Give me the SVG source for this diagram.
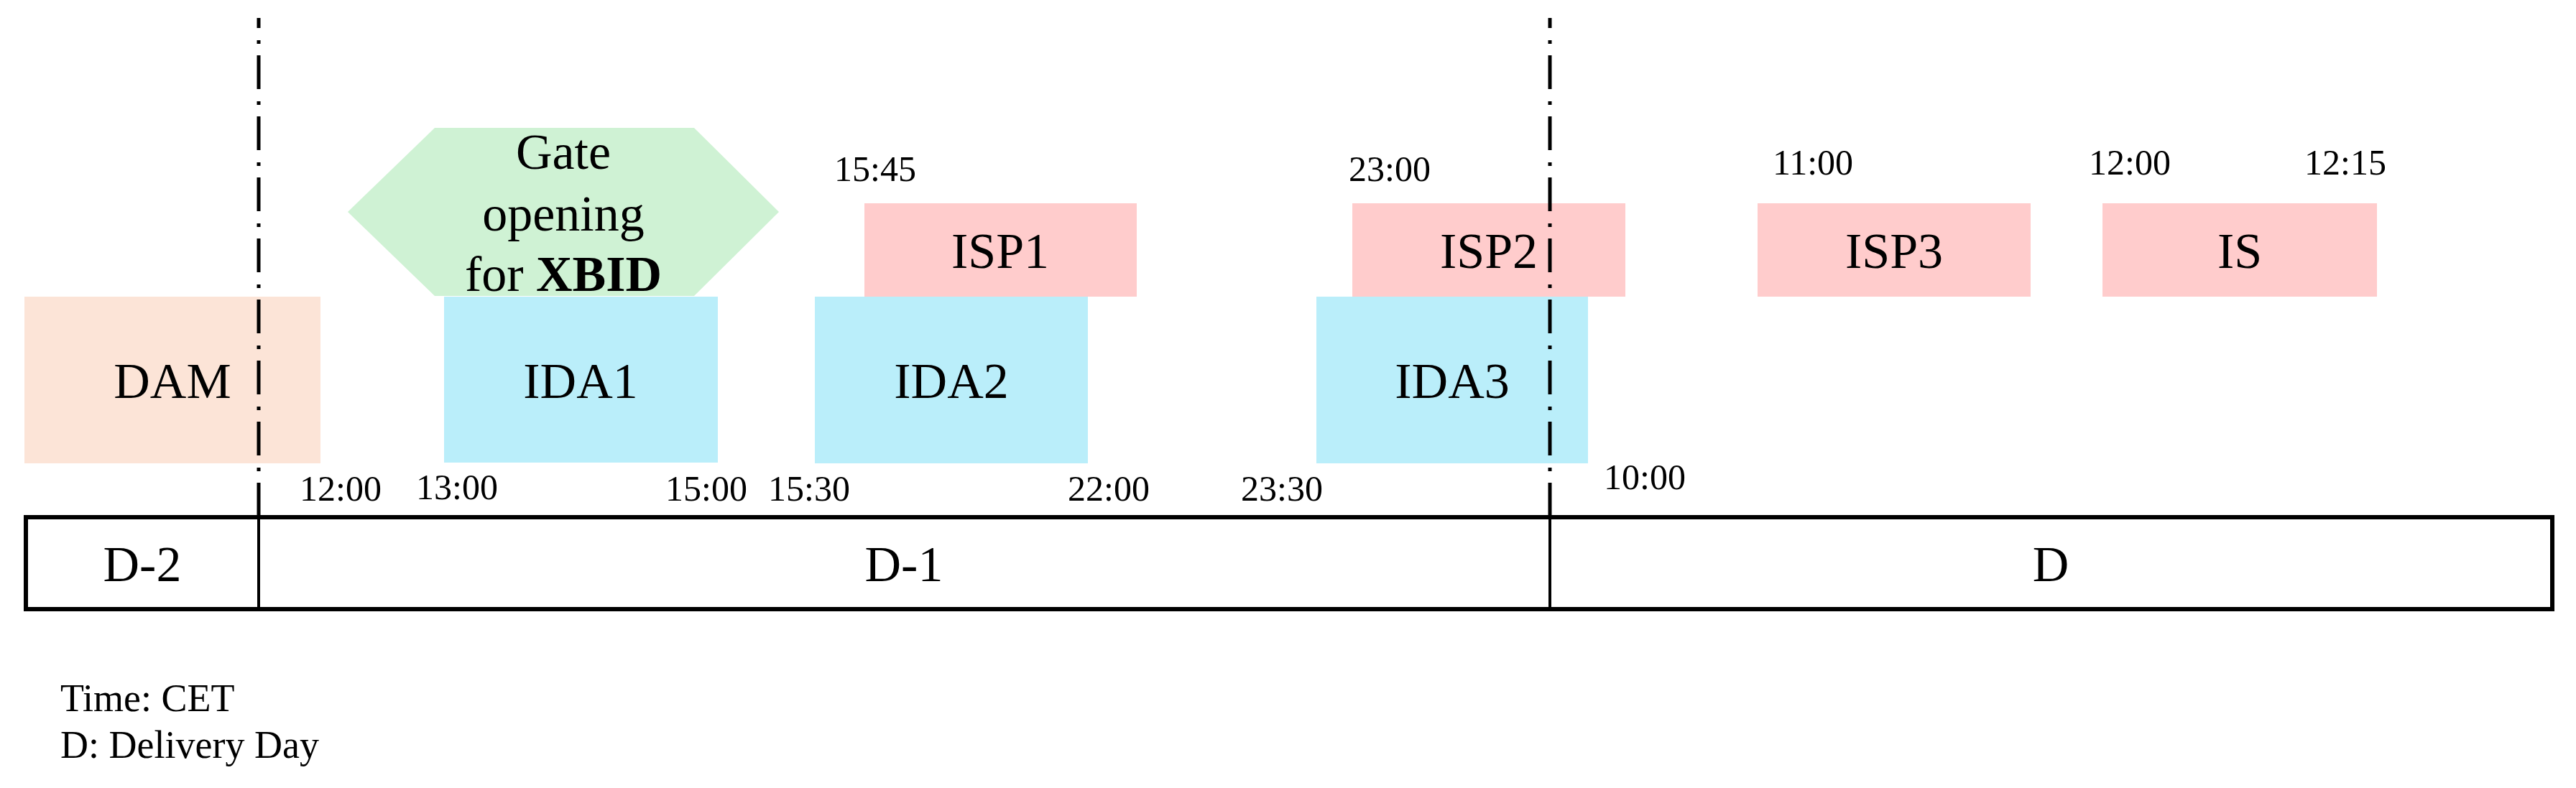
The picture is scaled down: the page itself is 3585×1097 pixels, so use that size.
<svg xmlns="http://www.w3.org/2000/svg" width="3585" height="1097" viewBox="0 0 3585 1097">
<style>
text{font-family:"Liberation Serif","Times New Roman",serif;fill:#000}
.lbl{font-size:70px;text-anchor:middle}
.tm{font-size:50px}
.note{font-size:54px}
.dam{fill:#FCE4D7}
.ida{fill:#BAEEFA}
.isp{fill:#FFCCCC}
.hex{fill:#CFF2D4}
.dd{stroke:#000;stroke-width:5;fill:none;stroke-dasharray:47 17 5 16;stroke-dashoffset:33}
.tbl{stroke:#000;fill:none}
</style>
<rect width="3585" height="1097" fill="#fff"/>
<g id="DAM"><rect class="dam" x="34" y="413" width="412" height="232"/><text class="lbl" x="240" y="554">DAM</text></g>
<g id="gate"><polygon class="hex" points="605,178 966,178 1084,295 966,412 605,412 484,295"/>
<text class="lbl" x="784" y="235">Gate</text><text class="lbl" x="784" y="321">opening</text><text class="lbl" x="784" y="405">for <tspan font-weight="bold">XBID</tspan></text></g>
<g id="IDA1"><rect class="ida" x="618" y="413" width="381" height="231"/><text class="lbl" x="808" y="554">IDA1</text></g>
<g id="IDA2"><rect class="ida" x="1134" y="413" width="380" height="232"/><text class="lbl" x="1324" y="554">IDA2</text></g>
<g id="IDA3"><rect class="ida" x="1832" y="413" width="378" height="232"/><text class="lbl" x="2021" y="554">IDA3</text></g>
<g id="ISP1"><rect class="isp" x="1203" y="283" width="379" height="130"/><text class="lbl" x="1392" y="373">ISP1</text></g>
<g id="ISP2"><rect class="isp" x="1882" y="283" width="380" height="130"/><text class="lbl" x="2072" y="373">ISP2</text></g>
<g id="ISP3"><rect class="isp" x="2446" y="283" width="380" height="130"/><text class="lbl" x="2636" y="373">ISP3</text></g>
<g id="IS"><rect class="isp" x="2926" y="283" width="382" height="130"/><text class="lbl" x="3117" y="373">IS</text></g>
<g id="connectors">
<line class="dd" x1="360" y1="25" x2="360" y2="720"/>
<line class="dd" x1="2157" y1="25" x2="2157" y2="720"/>
</g>
<g id="timeline">
<rect class="tbl" x="36" y="720" width="3516" height="128" stroke-width="6"/>
<line class="tbl" x1="360" y1="720" x2="360" y2="848" stroke-width="4"/>
<line class="tbl" x1="2157" y1="720" x2="2157" y2="848" stroke-width="4"/>
<text class="lbl" x="198" y="809">D-2</text>
<text class="lbl" x="1258" y="809">D-1</text>
<text class="lbl" x="2854" y="809">D</text>
</g>
<g id="times">
<text class="tm" x="417" y="697">12:00</text>
<text class="tm" x="579" y="695">13:00</text>
<text class="tm" x="926" y="697">15:00</text>
<text class="tm" x="1069" y="697">15:30</text>
<text class="tm" x="1486" y="697">22:00</text>
<text class="tm" x="1727" y="697">23:30</text>
<text class="tm" x="2232" y="681">10:00</text>
<text class="tm" x="1161" y="252">15:45</text>
<text class="tm" x="1877" y="252">23:00</text>
<text class="tm" x="2467" y="243">11:00</text>
<text class="tm" x="2907" y="243">12:00</text>
<text class="tm" x="3207" y="243">12:15</text>
</g>
<g id="notes">
<text class="note" x="84" y="990">Time: CET</text>
<text class="note" x="84" y="1055">D: Delivery Day</text>
</g>
</svg>
